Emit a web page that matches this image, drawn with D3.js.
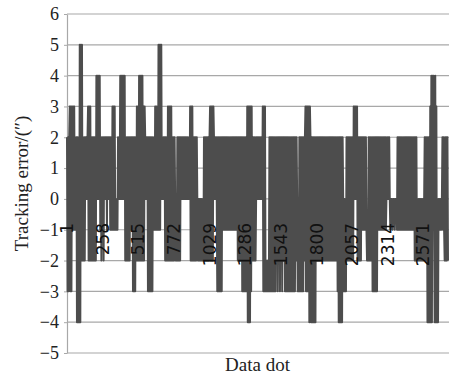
<!DOCTYPE html>
<html>
<head>
<meta charset="utf-8">
<script src="https://cdn.jsdelivr.net/npm/d3@7"></script>
<style>
  body { margin: 0; background: #fff; }
  svg { display: block; }
  .grid line { stroke: #a8a8a8; stroke-width: 1.2px; }
  .yaxis text { font: 18px "Liberation Serif", serif; fill: #222; }
  .xlabel { font: 17px "DejaVu Sans", sans-serif; fill: #111; }
  .title { font: 19px "Liberation Serif", serif; fill: #222; }
  .trace { fill: none; stroke: #4d4d4d; stroke-width: 2px; stroke-linejoin: round; }
</style>
</head>
<body>
<svg width="449" height="380"></svg>
<script>
// y axis values (arc seconds) and x tick labels (data dot numbers)
const yTickValues = [-5, -4, -3, -2, -1, 0, 1, 2, 3, 4, 5, 6];
const xTickDots = [1, 258, 515, 772, 1029, 1286, 1543, 1800, 2057, 2314, 2571];

// tracking error, one sample every 4 data dots.
// each character is the error + 4 (so "0" = -4, "4" = 0, "9" = 5), spaces only split runs
const sampleStep = 4;
const errorRows = [
  "61616 717173737 3636 0606 090 9292 62626 4646 72727 262626262 28 484848 3626362 64646364646363",
  "3737373 4343 6464 848484848 262626262 63636 161616 2 727282828282727 64646 161616161 6363 73737 393939",
  "94 64646 26262 72727272 62626 4242 6262626 6464646464646464 727272 6262626 424242424242 62626262626 7272727",
  "646464 161616161 636363636363636363 636363636 626262626 161616161 707070 717 2626262 46464646464 47 17171",
  "212121 616161616161 6261626162616 6261616161616161616161626 4141 616161616 26 7171717 07 60606060606 26262626262 626262626262626262626262626",
  "1 606060606 4141 41 62626262626 42 7474747 2626262 636363636 3232 626 2626 161616161 6363636363636363",
  "464646 43444344434443 6363 636363636363636363636363636 26262 4242424242424 62626 0606 07080 8383 08070 40 4343434 6363 2626262"
];
const trackingError = Array.from(errorRows.join("").replace(/ /g, ""), c => +c - 4);

const svg = d3.select("svg");
const W = +svg.attr("width"), H = +svg.attr("height");
svg.append("rect").attr("width", W).attr("height", H).attr("fill", "#fff");

const lastDot = 1 + (trackingError.length - 1) * sampleStep;
const x = d3.scaleLinear().domain([1, lastDot]).range([67, 448]);
const y = d3.scaleLinear().domain([-5, 6]).range([353, 14]);

// horizontal grid
svg.append("g").attr("class", "grid")
  .selectAll("line").data(yTickValues).join("line")
  .attr("x1", x.range()[0]).attr("x2", 449)
  .attr("y1", d => y(d)).attr("y2", d => y(d));

// left axis
const yAxis = svg.append("g").attr("class", "yaxis")
  .attr("transform", `translate(${x.range()[0]},0)`)
  .call(d3.axisLeft(y).tickValues(yTickValues).tickSize(3).tickSizeOuter(0).tickPadding(5));
yAxis.select(".domain").attr("stroke", "#a8a8a8").attr("stroke-width", 1.2);
yAxis.selectAll(".tick line").attr("stroke", "#a8a8a8");

// the trace
const line = d3.line()
  .x((d, i) => x(1 + i * sampleStep))
  .y(d => y(d));
svg.append("path").datum(trackingError).attr("class", "trace").attr("d", line);

// data dot labels hanging below the zero line
svg.append("g").selectAll("text").data(xTickDots).join("text")
  .attr("class", "xlabel")
  .attr("transform", d => `translate(${x(d)},${y(0) + 24}) rotate(-90)`)
  .attr("text-anchor", "end")
  .attr("dy", "0.36em")
  .text(d => d);

// titles
svg.append("text").attr("class", "title")
  .attr("transform", `translate(28,${(y(6) + y(-5)) / 2}) rotate(-90)`)
  .attr("text-anchor", "middle")
  .text("Tracking error/(\u2033)");

svg.append("text").attr("class", "title")
  .attr("x", (x.range()[0] + x.range()[1]) / 2)
  .attr("y", 371)
  .attr("text-anchor", "middle")
  .text("Data dot");
</script>
</body>
</html>
